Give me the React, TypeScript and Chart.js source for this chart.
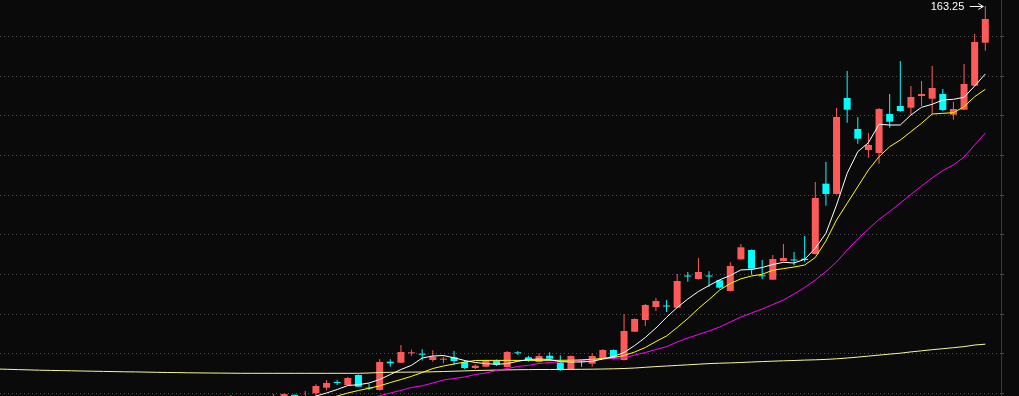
import { useEffect, useRef } from "react";
import { Chart, registerables } from "chart.js";

Chart.register(...registerables);

// Trading-day index of the first candle in the arrays below
const FIRST_CANDLE_DAY = 21;

const opens = [
  65.0, 64.75, 63.75, 64.25, 64.75, 65.0, 66.05, 64.75, 66.425, 67.825,
  69.25, 68.5, 71.0, 67.8, 67.25, 74.325, 74.075, 76.425, 76.325, 74.75,
  74.825, 75.425, 74.25, 72.75, 73.075, 74.5, 73.0, 76.675, 75.425, 74.25,
  75.825, 74.075, 72.425, 74.625, 73.825, 75.175, 77.25, 74.75, 81.825, 84.75,
  88.0, 88.375, 87.825, 95.875, 95.0, 95.875, 94.675, 92.0, 99.925, 102.25,
  95.925, 94.825, 99.5, 99.875, 100.075, 101.25, 118.825, 116.25, 140.25, 132.5,
  127.25, 126.5, 136.25, 138.25, 137.825, 140.75, 140.075, 141.25, 136.075, 137.325,
  143.325, 154.075,
];
const highs = [
  66.0, 65.25, 65.0, 65.25, 66.25, 66.375, 66.125, 67.0, 68.675, 69.75,
  69.825, 70.5, 71.125, 68.825, 75.0, 74.925, 78.5, 77.325, 77.425, 77.175,
  75.625, 77.0, 74.75, 73.675, 74.75, 74.875, 77.0, 77.0, 75.825, 76.425,
  76.675, 75.925, 75.875, 74.75, 76.425, 77.5, 77.375, 86.25, 85.125, 88.75,
  90.25, 89.75, 96.25, 96.75, 100.25, 96.925, 94.75, 99.175, 103.75, 102.375,
  99.75, 101.0, 103.75, 101.75, 105.75, 119.25, 124.25, 137.75, 147.0, 135.5,
  131.5, 137.75, 141.25, 149.5, 143.25, 144.5, 148.25, 142.5, 139.25, 148.75,
  156.25, 163.25,
];
const lows = [
  64.75, 63.5, 63.5, 63.75, 64.25, 64.5, 64.25, 64.25, 66.0, 67.175,
  68.5, 68.375, 68.0, 67.25, 67.125, 73.075, 74.0, 75.825, 74.625, 74.325,
  73.925, 73.5, 72.425, 72.425, 73.0, 73.25, 72.875, 76.0, 74.325, 74.125,
  74.575, 72.075, 72.3, 73.075, 73.075, 75.05, 74.925, 74.625, 81.75, 83.25,
  87.0, 86.75, 87.75, 94.325, 94.875, 93.075, 92.575, 91.875, 99.8, 96.075,
  94.925, 94.75, 99.375, 98.425, 99.325, 101.125, 113.325, 116.125, 134.075, 128.825,
  125.325, 123.825, 132.825, 136.825, 136.0, 138.25, 136.25, 137.0, 134.825, 137.25,
  143.25, 152.075,
];
const closes = [
  65.5, 64.0, 64.75, 65.0, 65.5, 66.25, 64.75, 65.5, 68.25, 69.0,
  69.0, 70.25, 68.075, 67.6, 74.25, 73.925, 76.75, 76.625, 76.075, 75.575,
  75.0, 74.5, 72.75, 73.325, 74.5, 73.575, 76.75, 76.425, 74.75, 75.75,
  75.075, 72.425, 75.75, 74.375, 75.75, 77.25, 75.425, 82.0, 85.0, 88.5,
  89.5, 88.125, 94.5, 95.625, 96.75, 95.625, 92.825, 98.25, 102.925, 97.575,
  95.675, 100.0, 100.25, 99.625, 99.75, 115.25, 116.25, 135.5, 137.325, 130.075,
  128.5, 137.5, 134.325, 137.0, 140.5, 141.25, 142.75, 137.25, 137.5, 143.75,
  154.25, 160.0,
];

// Moving averages (first day index + values)
const MA5_START = 28;
const ma5 = [
  65.0, 65.75, 66.5, 67.375, 68.375, 68.575, 69.0, 69.875, 71.125, 72.375,
  73.425, 75.25, 75.75, 75.875, 75.3, 74.625, 74.125, 73.85, 73.675, 73.85,
  74.425, 74.875, 75.0, 74.875, 74.325, 74.25, 74.25, 74.425, 75.0, 75.625,
  76.625, 78.375, 80.375, 82.75, 85.425, 87.875, 90.0, 91.875, 93.375, 94.8,
  95.875, 97.275, 97.375, 97.875, 98.625, 99.175, 99.0, 99.925, 102.675, 106.425,
  113.5, 121.425, 126.825, 129.075, 133.675, 133.5, 133.5, 136.0, 137.925, 138.675,
  139.75, 139.925, 140.425, 143.25, 146.25,
];
const MA10_START = 30;
const ma10 = [
  65.0, 65.75, 66.5, 67.125, 67.675, 68.3, 69.1, 69.875, 70.675, 71.625,
  72.625, 73.25, 73.75, 74.25, 74.625, 74.65, 74.65, 74.65, 74.65, 74.65,
  74.65, 74.65, 74.675, 74.7, 74.8, 74.925, 75.125, 75.375, 75.875, 76.75,
  77.875, 79.375, 80.75, 82.875, 85.125, 87.625, 89.875, 92.25, 93.875, 95.05,
  95.75, 96.175, 97.2, 97.6, 98.0, 98.5, 100.375, 104.5, 109.75, 113.925,
  118.075, 122.25, 125.575, 128.075, 129.75, 131.825, 133.925, 136.25, 136.425, 136.575,
  138.075, 140.575, 142.425,
];
const MA20_START = 34;
const ma20 = [
  65.0, 65.825, 66.5, 67.15, 67.875, 68.3, 69.0, 69.75, 70.125, 70.5,
  71.125, 71.5, 72.125, 72.625, 73.125, 73.425, 73.875, 74.125, 74.3, 74.5,
  74.7, 74.875, 74.975, 75.125, 75.3, 76.0, 76.625, 77.375, 78.075, 79.25,
  80.25, 81.125, 82.0, 83.0, 84.25, 85.5, 86.5, 87.5, 88.625, 89.75,
  91.25, 92.875, 94.75, 96.875, 99.25, 102.25, 105.0, 107.5, 109.875, 111.875,
  114.0, 116.125, 118.25, 120.25, 122.125, 123.5, 125.5, 128.5, 131.5,
];
const MA250_START = -1;
const ma250 = [
  72.5, 72.425, 72.35, 72.275, 72.2, 72.15, 72.1, 72.05, 72.0, 71.95,
  71.9, 71.85, 71.8, 71.775, 71.725, 71.675, 71.625, 71.6, 71.55, 71.525,
  71.5, 71.475, 71.45, 71.425, 71.425, 71.425, 71.425, 71.425, 71.425, 71.425,
  71.425, 71.425, 71.425, 71.425, 71.425, 71.5, 71.625, 71.675, 71.7, 71.725,
  71.75, 71.8, 71.875, 71.95, 72.025, 72.125, 72.175, 72.225, 72.275, 72.325,
  72.35, 72.375, 72.375, 72.4, 72.4, 72.425, 72.45, 72.5, 72.55, 72.625,
  72.75, 72.925, 73.1, 73.25, 73.4, 73.55, 73.7, 73.85, 73.95, 74.025,
  74.125, 74.25, 74.35, 74.45, 74.55, 74.625, 74.725, 74.8, 74.9, 75.05,
  75.25, 75.475, 75.725, 75.975, 76.225, 76.45, 76.775, 77.05, 77.325, 77.575,
  77.825, 78.1, 78.5, 78.7,
];

// Horizontal dotted grid levels
const gridPrices = [66.425, 76.325, 86.25, 96.175, 106.075, 116.0, 125.925, 135.825, 145.75, 155.675];

// Visible window
const X_MIN = -0.734;
const X_MAX = 93.478;
const Y_MIN = 65.75;
const Y_MAX = 164.75;

const UP = "#ff5a5a";
const DOWN = "#00ffff";

export default function App() {
  const ref = useRef<HTMLCanvasElement | null>(null);

  useEffect(() => {
    document.body.style.margin = "0";
    document.body.style.background = "#0a0a0a";
    const canvas = ref.current;
    if (!canvas) return;

    const days = opens.map((_, i) => FIRST_CANDLE_DAY + i);
    const colors = opens.map((o, i) => (closes[i] >= o ? UP : DOWN));
    const series = (start: number, arr: number[]) => arr.map((v, i) => ({ x: start + i, y: v }));

    const peakLabel = {
      id: "peakLabel",
      afterDatasetsDraw(chart: any) {
        const { ctx } = chart;
        const xs = chart.scales.x;
        const ys = chart.scales.y;
        let iMax = 0;
        highs.forEach((h, i) => {
          if (h > highs[iMax]) iMax = i;
        });
        const px = xs.getPixelForValue(days[iMax]);
        const py = ys.getPixelForValue(highs[iMax]);
        const yy = Math.round(py) + 0.5;
        const tip = px - 2;
        const tail = px - 15.5;
        ctx.save();
        ctx.strokeStyle = "#ffffff";
        ctx.lineWidth = 1;
        ctx.beginPath();
        ctx.moveTo(tail, yy);
        ctx.lineTo(tip, yy);
        ctx.moveTo(tip - 5, yy - 3);
        ctx.lineTo(tip, yy);
        ctx.lineTo(tip - 5, yy + 3);
        ctx.stroke();
        ctx.fillStyle = "#ffffff";
        ctx.font = '11px "Liberation Sans", Arial, sans-serif';
        ctx.textAlign = "right";
        ctx.textBaseline = "middle";
        ctx.fillText(highs[iMax].toFixed(2), px - 21, py + 0.5);
        ctx.restore();
      },
    };

    const lineDs = (label: string, start: number, arr: number[], color: string) => ({
      type: "line" as const,
      label,
      data: series(start, arr),
      borderColor: color,
      borderWidth: 1,
      pointRadius: 0,
      tension: 0,
      fill: false,
    });

    const chart = new Chart(canvas, {
      type: "bar",
      data: {
        datasets: [
          lineDs("MA5", MA5_START, ma5, "#ffffff"),
          lineDs("MA10", MA10_START, ma10, "#ffff00"),
          lineDs("MA20", MA20_START, ma20, "#ff00ff"),
          lineDs("MA250", MA250_START, ma250, "#f8f89a"),
          {
            type: "bar",
            label: "body",
            data: days.map((d, i) => ({ x: d, y: [opens[i], closes[i]] })),
            backgroundColor: colors,
            barThickness: 7,
            grouped: false,
            minBarLength: 1,
            inflateAmount: 0,
            borderWidth: 0,
          } as any,
          {
            type: "bar",
            label: "wick",
            data: days.map((d, i) => ({ x: d, y: [lows[i], highs[i]] })),
            backgroundColor: colors,
            barThickness: 1,
            grouped: false,
            inflateAmount: 0,
            borderWidth: 0,
          } as any,
        ],
      },
      options: {
        responsive: false,
        animation: false,
        devicePixelRatio: 1,
        events: [],
        layout: { padding: { left: 0, right: 15, top: 0, bottom: 0 } },
        plugins: { legend: { display: false }, tooltip: { enabled: false } },
        scales: {
          x: { type: "linear", display: false, min: X_MIN, max: X_MAX, offset: false },
          y: {
            type: "linear",
            position: "right",
            min: Y_MIN,
            max: Y_MAX,
            afterBuildTicks: (s: any) => {
              s.ticks = gridPrices.map((v) => ({ value: v }));
            },
            ticks: { display: false },
            grid: { color: "#505050", lineWidth: 1, drawTicks: true, tickLength: 3, tickColor: "#505050" },
            border: { display: true, color: "#3a3a3a", width: 1, dash: [1, 3] },
          },
        },
      } as any,
      plugins: [peakLabel],
    });

    return () => chart.destroy();
  }, []);

  return <canvas ref={ref} width={1019} height={396} style={{ display: "block", background: "#0a0a0a" }} />;
}
